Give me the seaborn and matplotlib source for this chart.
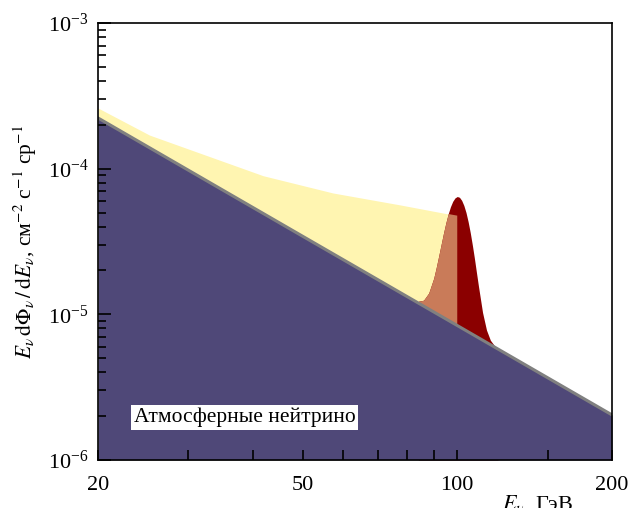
import matplotlib
matplotlib.use("Agg")
import matplotlib.pyplot as plt
import seaborn as sns
from matplotlib.ticker import FixedLocator, NullFormatter, FixedFormatter

# atmospheric neutrino background, E dPhi/dE (straight line in log-log)
atm_E = [20, 50, 100, 200]
atm_flux = [2.23e-4, 3.44e-5, 8.38e-6, 2.04e-6]

# upper edge of the light yellow band (stops at 100 GeV)
band_E = [20, 25.2, 41.9, 57.3, 77.4, 95.9, 100]
band_flux = [2.61e-4, 1.70e-4, 8.95e-5, 6.81e-5, 5.64e-5, 4.89e-5, 4.76e-5]

# line signal around 100 GeV (total flux, dark red)
peak_E = [84, 86, 88, 90, 91, 92, 93, 94, 95, 96, 97, 98, 99, 100,
          101, 102, 103, 104, 105, 106, 107, 108, 109, 110, 112, 114, 116, 118, 120]
peak_flux = [1.23e-5, 1.25e-5, 1.40e-5, 1.77e-5, 2.09e-5, 2.50e-5, 3.00e-5, 3.59e-5,
             4.23e-5, 4.88e-5, 5.48e-5, 5.97e-5, 6.30e-5, 6.44e-5, 6.36e-5, 6.06e-5,
             5.59e-5, 5.00e-5, 4.32e-5, 3.64e-5, 2.99e-5, 2.42e-5, 1.93e-5, 1.55e-5,
             1.03e-5, 7.80e-6, 6.64e-6, 6.12e-6, 5.80e-6]

x_major = [20, 50, 100, 200]
x_labels = ['20', '50', '100', '200']
x_minor = [30, 40, 60, 70, 80, 90, 150]

sns.set_theme(style='ticks')
plt.rcParams['font.family'] = ['Liberation Serif', 'DejaVu Serif']
plt.rcParams['mathtext.fontset'] = 'stix'
plt.rcParams['text.color'] = 'black'
plt.rcParams['axes.labelcolor'] = 'black'
plt.rcParams['xtick.color'] = 'black'
plt.rcParams['ytick.color'] = 'black'

fig, ax = plt.subplots(figsize=(6.28, 5.08), dpi=100)
fig.subplots_adjust(left=0.156, right=0.9745, bottom=0.0945, top=0.9547)
ax.set_xscale('log')
ax.set_yscale('log')
ax.set_axisbelow(False)
ymin = 1e-6

# yellow band, dark red peak on it, then the overlap in orange (clipped to the band)
band = ax.fill_between(band_E, ymin, band_flux, color='#fff5b1', lw=0, zorder=1.0)
ax.fill_between(peak_E, ymin, peak_flux, color='#8b0000', lw=0, zorder=1.1)
overlap = ax.fill_between(peak_E, ymin, peak_flux, color='#c97b59', lw=0, zorder=1.2)
overlap.set_clip_path(band.get_paths()[0], ax.transData)
ax.fill_between(atm_E, ymin, atm_flux, color='#4f4878', lw=0, zorder=1.3)
sns.lineplot(x=atm_E, y=atm_flux, color='#808080', lw=2.2, ax=ax, zorder=1.4)

ax.set_xlim(20, 200)
ax.set_ylim(1e-6, 1e-3)

ax.xaxis.set_major_locator(FixedLocator(x_major))
ax.xaxis.set_major_formatter(FixedFormatter(x_labels))
ax.xaxis.set_minor_locator(FixedLocator(x_minor))
ax.xaxis.set_minor_formatter(NullFormatter())

ax.tick_params(which='both', direction='in', top=False, right=False,
               labelsize=16, color='black', labelcolor='black', width=1.2)
ax.tick_params(axis='x', which='both', length=7, pad=11.5)
ax.tick_params(axis='y', which='major', length=9, pad=7)
ax.tick_params(axis='y', which='minor', length=5.5)
for s in ax.spines.values():
    s.set_color('black')
    s.set_linewidth(1.2)
    s.set_zorder(6)

ax.set_ylabel(r'$E_\nu\,\mathrm{d}\Phi_\nu\,/\,\mathrm{d}E_\nu$, см$^{-2}$ с$^{-1}$ ср$^{-1}$',
              fontsize=15.5, color='black')
ax.yaxis.set_label_coords(-0.115, 0.5)
ax.set_xlabel('')
fig.text(0.80, -0.004, r'$E_\nu$, ГэВ', fontsize=16, va='baseline', ha='left',
         color='black')

ax.text(0.07, 0.097, 'Атмосферные нейтрино', transform=ax.transAxes, fontsize=15.5,
        va='center', ha='left', zorder=7, color='black',
        bbox=dict(facecolor='white', edgecolor='none', pad=2))

fig.savefig('out.png', dpi=100)
